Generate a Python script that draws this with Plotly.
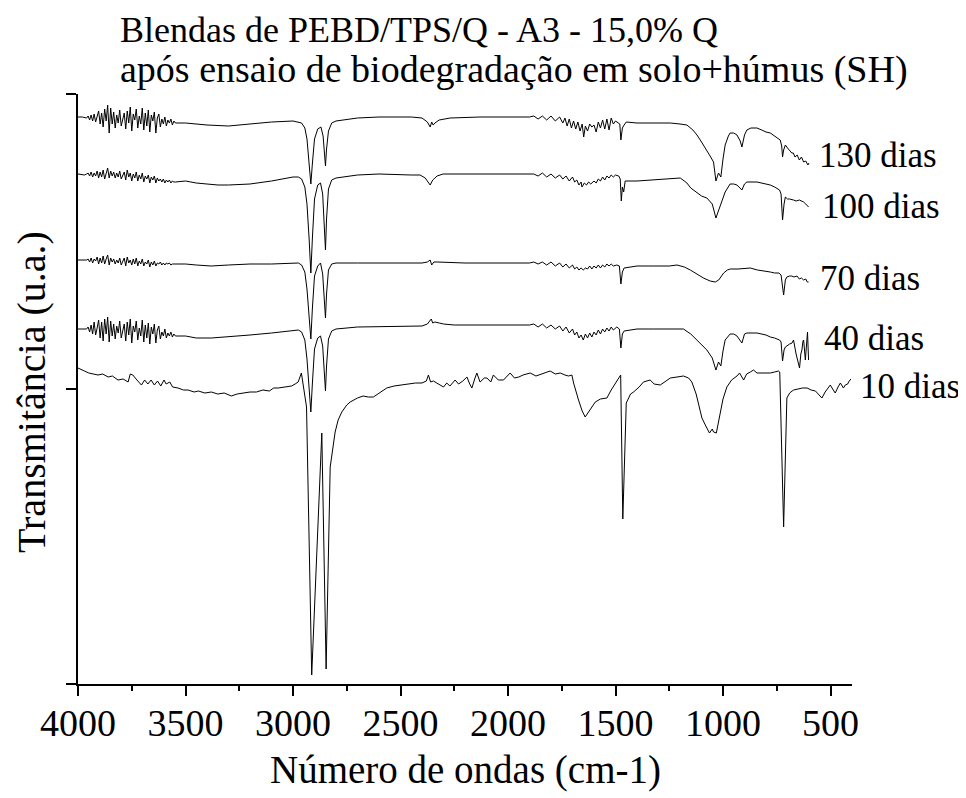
import plotly.graph_objects as go

# FTIR spectra: wavenumber (cm-1) and transmittance (arbitrary units, curves already stacked)

# noisy O-H / water-vapour region read point by point
noise_wn = [3960, 3953, 3946, 3939, 3932, 3925, 3918, 3911, 3904, 3897, 3890, 3883, 3876, 3869, 3862,
            3855, 3848, 3841, 3834, 3827, 3820, 3813, 3806, 3799, 3792, 3785, 3778, 3771, 3764, 3757,
            3750, 3743, 3736, 3729, 3722, 3715, 3708, 3701, 3694, 3687, 3680, 3673, 3666, 3659, 3652,
            3645, 3638, 3631, 3624, 3617, 3610, 3603, 3596, 3589, 3582, 3575, 3568, 3561, 3554, 3547]
noise_130 = [566, 568, 564, 569, 563, 570, 562, 567, 573, 560, 571, 557, 575, 563, 579,
             551, 576, 560, 572, 556, 569, 561, 574, 558, 566, 571, 555, 573, 561, 577,
             553, 570, 564, 575, 556, 568, 560, 576, 554, 571, 558, 574, 552, 569, 563,
             572, 551, 566, 570, 557, 565, 560, 567, 558, 564, 561, 565, 559, 563, 561]
noise_100 = [510, 511, 508, 512, 507, 511, 508, 513, 506, 512, 507, 514, 505, 511, 516,
             506, 513, 508, 512, 506, 511, 507, 513, 505, 509, 512, 504, 514, 507, 511,
             503, 510, 506, 512, 503, 509, 505, 511, 502, 508, 505, 509, 501, 507, 504,
             508, 501, 506, 503, 505, 502, 505, 501, 504, 502, 504, 501, 503, 502, 502]
noise_70 = [424, 425, 422, 426, 421, 425, 423, 427, 420, 426, 421, 428, 420, 425, 429,
            419, 426, 422, 425, 420, 424, 421, 426, 419, 423, 426, 418, 427, 421, 424,
            419, 425, 420, 426, 418, 423, 420, 425, 418, 422, 420, 424, 417, 422, 419,
            423, 418, 421, 420, 422, 419, 421, 419, 421, 420, 421, 419, 420, 420, 420]
noise_40 = [355, 357, 352, 359, 350, 362, 349, 356, 364, 346, 362, 343, 365, 350, 367,
            342, 363, 348, 360, 345, 358, 351, 363, 346, 355, 360, 343, 362, 349, 365,
            341, 358, 352, 363, 344, 356, 348, 364, 342, 359, 346, 361, 340, 357, 350,
            360, 341, 354, 358, 345, 352, 348, 355, 346, 351, 348, 352, 347, 350, 348]

rest_130 = [(3500, 561), (3400, 559), (3300, 558), (3200, 560),
            (3100, 562), (3000, 563), (2960, 561), (2945, 556), (2935, 545), (2925, 520), (2917, 500), (2910, 520),
            (2900, 545), (2885, 555), (2870, 557), (2860, 548), (2853, 530), (2849, 518), (2844, 535), (2835, 553),
            (2820, 561), (2800, 563), (2700, 566), (2600, 567), (2450, 567), (2400, 566), (2375, 562), (2362, 557),
            (2355, 562), (2348, 559), (2340, 561), (2320, 564), (2269, 566), (2130, 567), (2000, 567), (1900, 567),
            (1880, 568), (1860, 565), (1840, 568), (1820, 564), (1800, 568), (1780, 563), (1760, 567), (1745, 561),
            (1735, 566), (1725, 558), (1715, 565), (1705, 556), (1695, 563), (1685, 555), (1675, 562), (1665, 553),
            (1655, 560), (1648, 547), (1640, 558), (1630, 553), (1620, 560), (1610, 557), (1600, 559), (1590, 552),
            (1580, 562), (1570, 556), (1560, 564), (1550, 555), (1540, 565), (1530, 554), (1520, 566), (1510, 560),
            (1500, 563), (1490, 561), (1480, 560), (1475, 544), (1468, 556), (1460, 559), (1450, 562), (1400, 561),
            (1300, 561), (1245, 561), (1200, 560), (1168, 559), (1140, 554), (1121, 549), (1100, 542), (1075, 534),
            (1060, 528), (1044, 522), (1033, 503), (1021, 511), (1010, 507), (1000, 525), (990, 539), (975, 548),
            (967, 551), (950, 551), (935, 549), (920, 543), (912, 537), (900, 549), (889, 554), (870, 556),
            (842, 556), (820, 554), (800, 552), (780, 551), (760, 548), (745, 545), (734, 544), (727, 538),
            (723, 527), (718, 534), (710, 539), (700, 536), (690, 534), (680, 531), (673, 531), (665, 527),
            (655, 529), (645, 524), (635, 527), (625, 522), (615, 523), (605, 519), (600, 521)]

rest_100 = [(3500, 503), (3450, 501), (3400, 500), (3349, 499),
            (3300, 499), (3200, 500), (3100, 503), (3000, 507), (2975, 507), (2960, 505), (2945, 497), (2935, 480),
            (2925, 445), (2917, 411), (2910, 445), (2900, 485), (2885, 499), (2872, 501), (2862, 490), (2855, 465),
            (2849, 434), (2844, 465), (2835, 495), (2820, 504), (2800, 506), (2700, 509), (2600, 510), (2450, 509),
            (2409, 509), (2385, 506), (2370, 502), (2362, 499), (2350, 504), (2330, 508), (2302, 510), (2200, 510),
            (2000, 510), (1900, 510), (1880, 510), (1860, 508), (1840, 511), (1820, 507), (1800, 510), (1780, 506),
            (1760, 509), (1745, 505), (1730, 508), (1715, 503), (1700, 507), (1690, 502), (1680, 504), (1670, 499),
            (1660, 502), (1656, 497), (1645, 501), (1635, 499), (1625, 502), (1615, 500), (1600, 503), (1590, 501),
            (1580, 505), (1570, 503), (1560, 507), (1550, 504), (1540, 508), (1530, 506), (1520, 509), (1510, 507),
            (1500, 509), (1485, 508), (1478, 505), (1473, 483), (1468, 497), (1462, 492), (1455, 503), (1400, 503),
            (1325, 504), (1250, 505), (1199, 506), (1180, 503), (1168, 501), (1150, 496), (1121, 491), (1100, 488),
            (1075, 486), (1050, 480), (1033, 466), (1016, 476), (1000, 487), (990, 492), (967, 500), (950, 500),
            (935, 499), (912, 494), (900, 500), (889, 502), (842, 502), (800, 500), (780, 499), (760, 497),
            (737, 494), (730, 490), (723, 464), (716, 480), (710, 487), (700, 485), (690, 485), (672, 484),
            (660, 483), (645, 484), (633, 483), (625, 482), (615, 480), (608, 478), (602, 477)]

rest_70 = [(3500, 420), (3450, 419), (3381, 418), (3300, 419), (3200, 420),
           (3100, 420), (3000, 421), (2975, 421), (2960, 419), (2945, 412), (2935, 395), (2925, 370), (2917, 345),
           (2910, 375), (2900, 408), (2885, 418), (2872, 421), (2862, 410), (2855, 390), (2849, 366), (2844, 390),
           (2835, 414), (2820, 420), (2800, 421), (2700, 421), (2500, 421), (2400, 421), (2375, 422), (2362, 424),
           (2355, 419), (2345, 422), (2330, 422), (2200, 421), (2000, 421), (1900, 421), (1880, 422), (1860, 420),
           (1840, 422), (1820, 419), (1800, 422), (1780, 418), (1760, 421), (1745, 417), (1730, 420), (1715, 416),
           (1700, 419), (1690, 415), (1680, 417), (1670, 414), (1660, 416), (1650, 414), (1640, 416), (1630, 415),
           (1620, 418), (1610, 415), (1600, 418), (1590, 416), (1580, 419), (1570, 416), (1560, 419), (1550, 417),
           (1540, 420), (1530, 418), (1520, 420), (1510, 418), (1494, 419), (1482, 418), (1475, 400), (1468, 412),
           (1460, 416), (1400, 418), (1325, 418), (1250, 418), (1214, 419), (1180, 417), (1152, 414), (1120, 410),
           (1091, 406), (1060, 403), (1036, 402), (1020, 404), (997, 411), (980, 414), (966, 415), (930, 415),
           (873, 416), (840, 414), (800, 413), (780, 412), (760, 411), (740, 411), (730, 409), (718, 389),
           (710, 404), (703, 407), (690, 408), (680, 408), (670, 407), (656, 408), (645, 405), (635, 406),
           (625, 404), (615, 405), (608, 402), (602, 402)]

rest_40 = [(3500, 348), (3450, 346), (3380, 346), (3300, 347),
           (3200, 349), (3100, 351), (3000, 354), (2975, 354), (2960, 352), (2945, 344), (2935, 325), (2925, 298),
           (2917, 272), (2910, 300), (2900, 335), (2885, 346), (2872, 348), (2862, 338), (2855, 318), (2849, 293),
           (2844, 318), (2835, 345), (2820, 353), (2800, 355), (2700, 357), (2500, 358), (2400, 358), (2375, 360),
           (2365, 363), (2357, 365), (2350, 361), (2340, 362), (2320, 361), (2300, 360), (2250, 359), (2000, 359),
           (1900, 359), (1880, 360), (1860, 357), (1840, 360), (1820, 356), (1800, 359), (1780, 355), (1760, 358),
           (1745, 353), (1730, 357), (1715, 351), (1700, 355), (1690, 349), (1680, 352), (1670, 346), (1660, 349),
           (1650, 344), (1640, 350), (1630, 346), (1620, 351), (1610, 347), (1600, 352), (1590, 349), (1580, 354),
           (1570, 350), (1560, 355), (1550, 352), (1540, 356), (1530, 353), (1520, 357), (1510, 354), (1494, 357),
           (1482, 355), (1475, 336), (1468, 350), (1460, 353), (1400, 355), (1325, 355), (1250, 355), (1184, 355),
           (1150, 350), (1121, 344), (1100, 339), (1075, 334), (1050, 326), (1033, 314), (1021, 322), (1010, 318),
           (1000, 333), (990, 344), (967, 350), (950, 350), (935, 348), (912, 341), (900, 350), (889, 351),
           (842, 351), (800, 349), (780, 347), (760, 346), (737, 344), (730, 342), (723, 323), (716, 334),
           (710, 337), (700, 339), (690, 340), (679, 341), (672, 344), (660, 330), (650, 322), (644, 316),
           (638, 330), (633, 334), (628, 343), (625, 344), (617, 324), (611, 340), (607, 352), (602, 324)]

spec_130 = [(4000, 567), (3980, 567)] + list(zip(noise_wn, noise_130)) + rest_130
spec_100 = [(4000, 510), (3970, 509)] + list(zip(noise_wn, noise_100)) + rest_100
spec_70 = [(4000, 424), (3970, 424)] + list(zip(noise_wn, noise_70)) + rest_70
spec_40 = [(4000, 355), (3970, 355)] + list(zip(noise_wn, noise_40)) + rest_40

spec_10 = [(4000, 316), (3992, 315), (3970, 313), (3950, 311), (3930, 310), (3907, 309), (3885, 310), (3860, 307),
           (3840, 308), (3814, 304), (3790, 305), (3767, 302), (3757, 310), (3745, 309), (3730, 305), (3715, 302),
           (3705, 299), (3690, 304), (3675, 300), (3660, 304), (3645, 299), (3630, 303), (3615, 298), (3600, 304),
           (3590, 300), (3573, 302), (3560, 297), (3535, 296), (3510, 294), (3488, 294), (3460, 292), (3440, 293),
           (3410, 291), (3380, 292), (3350, 290), (3320, 291), (3287, 288), (3260, 290), (3230, 291), (3200, 292),
           (3170, 292), (3140, 294), (3110, 293), (3090, 296), (3069, 296), (3040, 297), (3020, 298), (3007, 298),
           (2990, 300), (2976, 302), (2961, 311), (2937, 277), (2913, 9), (2866, 251), (2846, 15), (2827, 217),
           (2804, 252), (2790, 264), (2773, 272), (2750, 279), (2734, 282), (2700, 286), (2674, 288), (2650, 287),
           (2626, 287), (2600, 291), (2564, 296), (2530, 298), (2502, 299), (2460, 300), (2430, 301), (2400, 301),
           (2380, 303), (2370, 309), (2360, 302), (2347, 303), (2320, 300), (2300, 297), (2285, 301), (2270, 298),
           (2246, 304), (2230, 300), (2210, 303), (2191, 307), (2178, 300), (2168, 296), (2155, 305), (2145, 311),
           (2130, 302), (2110, 306), (2098, 306), (2080, 302), (2068, 309), (2045, 304), (2021, 304), (2000, 309),
           (1990, 311), (1970, 306), (1950, 307), (1930, 309), (1897, 311), (1870, 308), (1840, 310), (1804, 313),
           (1780, 310), (1757, 311), (1735, 309), (1719, 308), (1703, 309), (1695, 301), (1672, 284), (1655, 273),
           (1641, 267), (1625, 272), (1610, 277), (1594, 282), (1570, 285), (1540, 286), (1520, 294), (1501, 301),
           (1490, 305), (1476, 309), (1466, 165), (1450, 281), (1430, 290), (1416, 292), (1390, 297), (1370, 302),
           (1339, 304), (1320, 300), (1292, 299), (1270, 302), (1245, 306), (1214, 307), (1184, 308), (1160, 306),
           (1145, 302), (1125, 290), (1098, 266), (1080, 258), (1063, 251), (1050, 255), (1044, 252), (1031, 251),
           (1020, 262), (1013, 271), (1000, 285), (982, 297), (960, 304), (935, 308), (923, 311), (904, 304),
           (890, 310), (873, 312), (858, 314), (842, 311), (827, 311), (800, 311), (780, 311), (760, 312),
           (742, 313), (736, 312), (718, 157), (703, 286), (690, 291), (672, 294), (650, 295), (630, 296),
           (609, 296), (590, 294), (570, 293), (540, 286), (525, 292), (501, 299), (490, 295), (478, 291),
           (465, 297), (454, 301), (440, 296), (431, 299), (420, 300), (416, 302), (405, 305)]

series = [("130 dias", spec_130), ("100 dias", spec_100), ("70 dias", spec_70),
          ("40 dias", spec_40), ("10 dias", spec_10)]

FONT = "Liberation Serif"

fig = go.Figure()
for name, spec in series:
    wn, t = zip(*spec)
    fig.add_trace(go.Scatter(x=list(wn), y=list(t), mode="lines", name=name,
                             line=dict(color="black", width=1), showlegend=False))

# curve labels (paper coords, so the one past the axis end is not hidden)
label_pos = {"130 dias": (0.9553, 0.8966), "100 dias": (0.9592, 0.8085), "70 dias": (0.9564, 0.6881),
             "40 dias": (0.9617, 0.5864), "10 dias": (1.0081, 0.5034)}
annotations = []
for name, _ in series:
    x, y = label_pos[name]
    annotations.append(dict(x=x, y=y, xref="paper", yref="paper", text=name, showarrow=False,
                            xanchor="left", yanchor="middle",
                            font=dict(family=FONT, size=35, color="black")))

annotations += [
    dict(x=0.0517, y=1.1085, xref="paper", yref="paper", xanchor="left", yanchor="middle",
         text="Blendas de PEBD/TPS/Q - A3 - 15,0% Q", showarrow=False,
         font=dict(family=FONT, size=36, color="black")),
    dict(x=0.0517, y=1.0407, xref="paper", yref="paper", xanchor="left", yanchor="middle",
         text="após ensaio de biodegradação em solo+húmus (SH)", showarrow=False,
         font=dict(family=FONT, size=38, color="black")),
    dict(x=0.5, y=-0.1458, xref="paper", yref="paper", xanchor="center", yanchor="middle",
         text="Número de ondas (cm-1)", showarrow=False,
         font=dict(family=FONT, size=39, color="black")),
    dict(x=-0.0594, y=0.495, xref="paper", yref="paper", xanchor="center", yanchor="middle",
         text="Transmitância (u.a.)", showarrow=False, textangle=-90,
         font=dict(family=FONT, size=40, color="black")),
]

# the page adds an 8 px body margin, so the figure is 8 px smaller than the window
fig.update_layout(
    width=958, height=790,
    margin=dict(l=70, r=114, t=86, b=114, autoexpand=False),
    paper_bgcolor="white", plot_bgcolor="white",
    font=dict(family=FONT, color="black"),
    annotations=annotations,
    xaxis=dict(range=[4000, 400], tick0=0, dtick=500, ticks="outside", ticklen=10, tickwidth=2,
               tickcolor="black", showline=True, linewidth=2, linecolor="black",
               showgrid=False, zeroline=False, automargin=False, ticklabelstandoff=-6,
               tickfont=dict(family=FONT, size=38, color="black"),
               minor=dict(dtick=250, ticks="outside", ticklen=5, tickwidth=2, tickcolor="black", showgrid=False)),
    yaxis=dict(range=[0, 590], tickvals=[0, 295, 590], showticklabels=False, ticks="outside",
               ticklen=10, tickwidth=2, tickcolor="black", showline=True, linewidth=2,
               linecolor="black", showgrid=False, zeroline=False, automargin=False),
)

fig.write_html("out.html")
